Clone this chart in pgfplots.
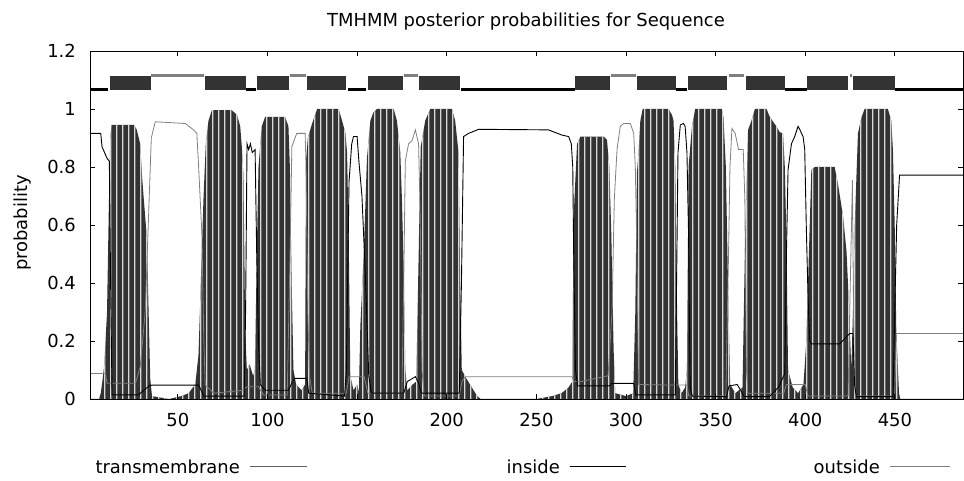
\documentclass[border=0pt]{standalone}
\usepackage{pgfplots}
\pgfplotsset{compat=1.18}
\usepackage{pgfplotstable}
\usepackage{fontspec}
\setmainfont{DejaVu Sans}
\usetikzlibrary{patterns}
\definecolor{tmdark}{HTML}{333333}
\definecolor{stripe}{HTML}{D8D8D8}
\definecolor{outgray}{HTML}{808080}
\definecolor{tmline}{HTML}{606060}
\pgfdeclarepatternformonly{vstripes}{\pgfpointorigin}{\pgfqpoint{6.2bp}{400bp}}{\pgfqpoint{6.2bp}{400bp}}{%
  \pgfpathrectangle{\pgfpointorigin}{\pgfqpoint{1.6bp}{400bp}}\pgfusepath{fill}}

\pgfplotstableread{
x y
1 0
6 0
7 0.02
8 0.065
9 0.12
10.5 0.3
11.5 0.66
12.3 0.9
13 0.945
25.5 0.945
27 0.93
29 0.88
30 0.77
31 0.69
32.8 0.55
33.7 0.3
34.6 0.07
35.6 0.01
45 0
52 0.01
56 0.02
59.7 0.05
61.5 0.15
62.5 0.34
64.3 0.69
65.6 0.88
67.1 0.96
69 0.996
80 0.996
83 0.98
84.8 0.94
85.7 0.87
86.6 0.77
87.6 0.23
88.5 0.1
90 0.12
92 0.08
93 0.1
94.1 0.52
95 0.8
96.8 0.94
98.7 0.973
109.8 0.973
111.7 0.94
112.5 0.8
113.5 0.4
114.5 0.1
116 0.05
119 0.03
121 0.05
121.5 0.82
122.5 0.9
124.9 0.95
127.7 1.0
139.7 1.0
141.6 0.96
143.5 0.916
144.4 0.85
145.3 0.57
146.2 0.08
148 0.03
150 0.05
151 0.02
151.8 0.25
153.7 0.5
155.5 0.83
157.4 0.96
159.2 0.99
161.1 1.0
170.4 1.0
172.2 0.96
174.1 0.85
175 0.69
176 0.45
176.9 0.1
178 0.03
181 0.05
183 0.06
184.5 0.55
185.5 0.87
188 0.96
190.8 1.0
202.9 1.0
204.7 0.96
206.6 0.85
207.5 0.4
208.4 0.1
211 0.07
214 0.04
217 0.01
219 0
250 0
258.8 0.01
264 0.02
268 0.04
270 0.06
270.8 0.63
272.7 0.88
274.6 0.905
287.6 0.905
289.4 0.893
290.7 0.8
291.8 0.57
293.1 0.17
294 0.02
300 0.01
304 0.02
305.2 0.3
306.1 0.78
307 0.85
308 0.96
309.3 1.0
323.8 1.0
325.6 0.98
326.5 0.96
327.5 0.8
328.5 0.3
329.2 0.05
331 0.02
333 0.04
334 0.1
334.9 0.8
336.8 0.94
338.6 1.0
353.5 1.0
354.4 0.97
355.7 0.8
357.2 0.3
358.1 0.05
361 0.02
365 0.04
366.3 0.5
368.1 0.928
370 0.96
371.9 1.0
378.4 1.0
380.2 0.973
383.9 0.94
385.8 0.92
387.6 0.916
388.6 0.8
389.5 0.55
390.4 0.1
393 0.04
396 0.02
399 0.05
400.6 0.2
402.5 0.6
403.4 0.79
405.3 0.8
416.4 0.8
418.3 0.74
421.1 0.63
423 0.51
423.9 0.39
424.8 0.25
425.7 0.1
426.6 0.3
427.6 0.6
429.4 0.916
431.3 0.97
433.1 1.0
446.1 1.0
448 0.96
448.9 0.86
449.9 0.6
450.8 0.23
452.3 0.02
453 0
488 0
}\tmdata

\pgfplotstableread{
x y
1 0.916
7 0.916
7.7 0.87
10.5 0.83
11.8 0.82
12.5 0.4
13.3 0.014
28 0.014
31 0.03
34 0.045
35.6 0.048
61.6 0.048
63 0.03
64.5 0.01
87 0.01
87.8 0.3
88.6 0.88
89.5 0.86
90.5 0.88
91.5 0.85
93.1 0.86
94 0.5
95 0.2
96 0.05
98.7 0.03
111.7 0.03
114 0.06
115.4 0.071
122 0.071
123 0.02
143 0.01
144 0.1
145.5 0.75
147 0.88
148 0.905
150 0.905
151 0.82
152.7 0.7
154.6 0.43
156.5 0.08
158 0.02
176 0.02
178 0.06
182.5 0.077
184 0.06
186 0.02
207 0.02
208.2 0.4
209.4 0.905
212.2 0.916
215.9 0.925
217.7 0.93
256.9 0.928
258.8 0.923
264.3 0.91
268 0.905
269.5 0.88
270.3 0.8
270.8 0.51
271.8 0.1
273 0.045
291 0.045
292 0.054
304.3 0.054
305.5 0.014
327.5 0.014
328.4 0.5
329 0.85
330.3 0.945
332.1 0.95
333 0.94
334 0.85
334.9 0.57
335.8 0.04
337 0.01
356 0.008
357.5 0.045
362 0.05
364 0.03
366 0.008
380 0.008
385 0.04
388.6 0.088
389.5 0.5
390.4 0.79
392.3 0.88
394.1 0.905
396 0.94
396.9 0.93
397.9 0.916
398.8 0.905
399.7 0.86
400.6 0.59
401.6 0.34
402.5 0.2
403.4 0.19
419.2 0.19
424.8 0.226
426.6 0.226
427.5 0.05
428.5 0.008
449 0.008
449.9 0.3
451 0.6
452.6 0.772
488 0.772
}\indata

\pgfplotstableread{
x y
1 0.088
9.6 0.088
10.5 0.054
26.3 0.054
29 0.11
31.8 0.3
33.5 0.6
35.2 0.9
37.4 0.956
54.1 0.95
58.8 0.928
60.6 0.916
61.6 0.8
63.4 0.57
64.5 0.2
65.3 0.048
70 0.02
86 0.03
88 0.04
89 0.042
95 0.042
97.8 0.014
111 0.014
112.6 0.5
113.6 0.87
116.3 0.916
121 0.916
121.5 0.81
122.5 0.3
123.5 0.077
125 0.02
144 0.02
145.5 0.077
154 0.077
156 0.02
175 0.02
176 0.4
176.9 0.82
178.7 0.88
180.6 0.89
182.5 0.928
184.3 0.88
185.2 0.63
186.2 0.1
187.5 0.01
207 0.01
208.5 0.06
210.3 0.077
269.9 0.077
271 0.06
274.6 0.06
290 0.08
292.2 0.3
293.5 0.69
295 0.86
296.8 0.94
298.7 0.95
302.4 0.95
304.3 0.916
305.2 0.8
306.1 0.5
307 0.05
327.5 0.048
334 0.048
335 0.01
355.7 0.01
357.2 0.5
358 0.8
359.1 0.933
360.9 0.916
362.8 0.86
365.4 0.86
366.3 0.69
367.2 0.1
368 0.02
388 0.02
389.5 0.05
400 0.05
401.5 0.01
423.9 0.01
424.8 0.3
426.3 0.755
427.2 0.1
428 0.01
449.9 0.01
450.8 0.226
488 0.226
}\outdata

\begin{document}
\fontsize{18}{21}\selectfont
\begin{tikzpicture}
\begin{axis}[
  scale only axis, width=873bp, height=348bp,
  xmin=1, xmax=488, ymin=0, ymax=1.2,
  axis on top,
  axis line style={line width=0.8bp, black},
  tick align=inside, major tick length=5bp,
  tick style={line width=0.8bp, black},
  xtick={50,100,150,200,250,300,350,400,450},
  ytick={0,0.2,0.4,0.6,0.8,1,1.2},
  yticklabels={0,0.2,0.4,0.6,0.8,1,1.2},
  /pgf/number format/assume math mode=true,
  ticklabel style={font=\fontsize{18}{21}\selectfont},
  xticklabel style={yshift=-8bp},
  yticklabel style={xshift=-8bp},
  unbounded coords=jump,
]
% transmembrane probability (impulses)
\addplot[fill=tmdark, draw=none] table[x=x,y=y]{\tmdata} \closedcycle;
\addplot[draw=none, pattern=vstripes, pattern color=stripe] table[x=x,y=y]{\tmdata} \closedcycle;
% outside probability
\addplot[outgray, line width=0.8bp] table[x=x,y=y]{\outdata};
% inside probability
\addplot[black, line width=0.9bp] table[x=x,y=y]{\indata};
% topology: TM boxes
\addplot[fill=tmdark, draw=none] coordinates {(12.1,1.064)(34.8,1.064)(34.8,1.114)(12.1,1.114)} -- cycle;
\addplot[fill=tmdark, draw=none] coordinates {(65.3,1.064)(88.1,1.064)(88.1,1.114)(65.3,1.114)} -- cycle;
\addplot[fill=tmdark, draw=none] coordinates {(94.3,1.064)(112.1,1.064)(112.1,1.114)(94.3,1.114)} -- cycle;
\addplot[fill=tmdark, draw=none] coordinates {(122.1,1.064)(144,1.064)(144,1.114)(122.1,1.114)} -- cycle;
\addplot[fill=tmdark, draw=none] coordinates {(156.1,1.064)(175.4,1.064)(175.4,1.114)(156.1,1.114)} -- cycle;
\addplot[fill=tmdark, draw=none] coordinates {(184.8,1.064)(207.5,1.064)(207.5,1.114)(184.8,1.114)} -- cycle;
\addplot[fill=tmdark, draw=none] coordinates {(271.6,1.064)(291.1,1.064)(291.1,1.114)(271.6,1.114)} -- cycle;
\addplot[fill=tmdark, draw=none] coordinates {(306,1.064)(327.7,1.064)(327.7,1.114)(306,1.114)} -- cycle;
\addplot[fill=tmdark, draw=none] coordinates {(334.7,1.064)(356.4,1.064)(356.4,1.114)(334.7,1.114)} -- cycle;
\addplot[fill=tmdark, draw=none] coordinates {(366.7,1.064)(388.6,1.064)(388.6,1.114)(366.7,1.114)} -- cycle;
\addplot[fill=tmdark, draw=none] coordinates {(401.2,1.064)(423.8,1.064)(423.8,1.114)(401.2,1.114)} -- cycle;
\addplot[fill=tmdark, draw=none] coordinates {(426.5,1.064)(449.9,1.064)(449.9,1.114)(426.5,1.114)} -- cycle;
% topology: inside
\addplot[black, line width=3bp] coordinates {(1,1.068)(11.3,1.068) (nan,nan) (88.1,1.068)(93.7,1.068) (nan,nan) (145,1.068)(155,1.068) (nan,nan) (208.2,1.068)(271.6,1.068) (nan,nan) (327.7,1.068)(333.8,1.068) (nan,nan) (388.6,1.068)(400.7,1.068) (nan,nan) (449.9,1.068)(488,1.068)};
% topology: outside
\addplot[outgray, line width=3bp] coordinates {(35.2,1.115)(64.5,1.115) (nan,nan) (112.6,1.115)(121.3,1.115) (nan,nan) (176.3,1.115)(184,1.115) (nan,nan) (291.8,1.115)(305.4,1.115) (nan,nan) (357.5,1.115)(365.9,1.115) (nan,nan) (424.8,1.115)(426.3,1.115)};
\end{axis}
\node[anchor=base] at (436bp,372bp) {TMHMM posterior probabilities for Sequence};
\node[rotate=90, anchor=base] at (-62bp,176bp) {probability};
\node[anchor=base east, inner sep=0pt] at (150bp,-74bp) {transmembrane};
\draw[tmline, line width=0.8bp] (160bp,-67bp) -- (217bp,-67bp);
\node[anchor=base east, inner sep=0pt] at (470bp,-74bp) {inside};
\draw[black, line width=1bp] (480bp,-67bp) -- (536bp,-67bp);
\node[anchor=base east, inner sep=0pt] at (790bp,-74bp) {outside};
\draw[outgray, line width=0.8bp] (800bp,-67bp) -- (860bp,-67bp);
\path (-90bp,-82bp) rectangle (874bp,399bp);
\end{tikzpicture}
\end{document}
